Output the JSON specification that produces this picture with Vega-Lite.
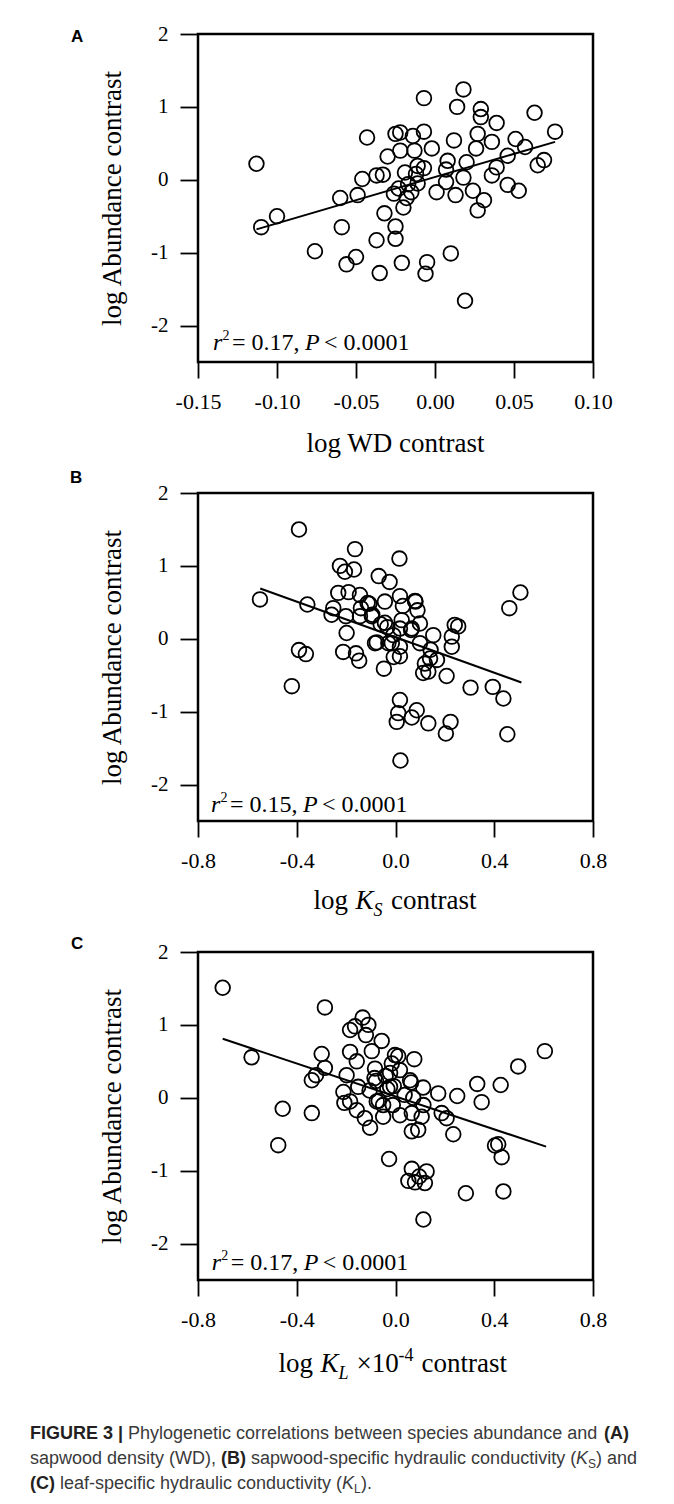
{
  "$schema": "https://vega.github.io/schema/vega-lite/v6.json",
  "padding": {"left": 30, "top": 21, "right": 10, "bottom": 10},
  "bounds": "flush",
  "spacing": 131,
  "datasets": {
    "A": [
      {"x": -0.113, "y": 0.22}, {"x": -0.110, "y": -0.65}, {"x": -0.100, "y": -0.50}, {"x": -0.076, "y": -0.98},
      {"x": -0.059, "y": -0.65}, {"x": -0.060, "y": -0.25}, {"x": -0.049, "y": -0.21}, {"x": -0.046, "y": 0.01},
      {"x": -0.043, "y": 0.58}, {"x": -0.056, "y": -1.16}, {"x": -0.050, "y": -1.06}, {"x": -0.035, "y": -1.28},
      {"x": -0.037, "y": -0.83}, {"x": -0.032, "y": -0.46}, {"x": -0.025, "y": -0.64}, {"x": -0.025, "y": -0.81},
      {"x": -0.021, "y": -1.14}, {"x": -0.037, "y": 0.06}, {"x": -0.033, "y": 0.07}, {"x": -0.030, "y": 0.32},
      {"x": -0.022, "y": 0.40}, {"x": -0.022, "y": 0.65}, {"x": -0.025, "y": 0.63}, {"x": -0.019, "y": 0.10},
      {"x": -0.017, "y": -0.06}, {"x": -0.023, "y": -0.12}, {"x": -0.026, "y": -0.19}, {"x": -0.018, "y": -0.25},
      {"x": -0.020, "y": -0.38}, {"x": -0.012, "y": 0.08}, {"x": -0.013, "y": 0.40}, {"x": -0.014, "y": 0.60},
      {"x": -0.007, "y": 0.66}, {"x": -0.007, "y": 1.12}, {"x": 0.018, "y": 1.24}, {"x": 0.014, "y": 1.00},
      {"x": 0.029, "y": 0.97}, {"x": 0.029, "y": 0.86}, {"x": 0.039, "y": 0.78}, {"x": 0.063, "y": 0.92},
      {"x": 0.076, "y": 0.66}, {"x": 0.069, "y": 0.27}, {"x": 0.065, "y": 0.20}, {"x": 0.057, "y": 0.45},
      {"x": 0.051, "y": 0.56}, {"x": 0.053, "y": -0.15}, {"x": 0.046, "y": -0.07}, {"x": 0.039, "y": 0.17},
      {"x": 0.036, "y": 0.06}, {"x": 0.036, "y": 0.52}, {"x": 0.027, "y": 0.63}, {"x": 0.026, "y": 0.43},
      {"x": 0.046, "y": 0.33}, {"x": 0.031, "y": -0.28}, {"x": 0.027, "y": -0.42}, {"x": 0.024, "y": -0.15},
      {"x": 0.020, "y": 0.24}, {"x": 0.018, "y": 0.03}, {"x": 0.013, "y": -0.21}, {"x": 0.012, "y": 0.54},
      {"x": 0.008, "y": 0.26}, {"x": 0.007, "y": 0.14}, {"x": 0.007, "y": -0.03}, {"x": 0.001, "y": -0.17},
      {"x": -0.002, "y": 0.43}, {"x": -0.007, "y": 0.16}, {"x": -0.005, "y": -1.13}, {"x": -0.006, "y": -1.29},
      {"x": 0.010, "y": -1.01}, {"x": 0.019, "y": -1.66}, {"x": -0.011, "y": 0.19}, {"x": -0.011, "y": -0.05},
      {"x": -0.015, "y": -0.17}
    ],
    "B": [
      {"x": -0.549, "y": 0.54}, {"x": -0.391, "y": 1.50}, {"x": -0.357, "y": 0.47}, {"x": -0.391, "y": -0.155},
      {"x": -0.363, "y": -0.21}, {"x": -0.42, "y": -0.65}, {"x": -0.164, "y": 1.23}, {"x": 0.016, "y": 1.10},
      {"x": -0.225, "y": 1.00}, {"x": -0.205, "y": 0.92}, {"x": -0.168, "y": 0.95}, {"x": -0.068, "y": 0.86},
      {"x": -0.024, "y": 0.78}, {"x": -0.232, "y": 0.63}, {"x": -0.19, "y": 0.64}, {"x": -0.144, "y": 0.60},
      {"x": -0.113, "y": 0.49}, {"x": -0.043, "y": 0.51}, {"x": 0.018, "y": 0.585}, {"x": 0.079, "y": 0.52},
      {"x": -0.252, "y": 0.42}, {"x": -0.259, "y": 0.33}, {"x": -0.201, "y": 0.31}, {"x": -0.096, "y": 0.31},
      {"x": -0.144, "y": 0.31}, {"x": -0.043, "y": 0.22}, {"x": 0.025, "y": 0.256}, {"x": 0.018, "y": 0.14},
      {"x": 0.063, "y": 0.12}, {"x": 0.099, "y": 0.21}, {"x": 0.089, "y": 0.39}, {"x": -0.198, "y": 0.08},
      {"x": -0.083, "y": -0.06}, {"x": -0.029, "y": -0.06}, {"x": -0.212, "y": -0.18}, {"x": -0.16, "y": -0.20},
      {"x": -0.147, "y": -0.30}, {"x": -0.047, "y": -0.41}, {"x": 0.018, "y": -0.24}, {"x": -0.007, "y": -0.25},
      {"x": 0.018, "y": -0.11}, {"x": -0.015, "y": -0.06}, {"x": 0.099, "y": -0.06}, {"x": 0.153, "y": 0.05},
      {"x": 0.228, "y": 0.03}, {"x": 0.254, "y": 0.17}, {"x": 0.24, "y": 0.19}, {"x": 0.228, "y": -0.11},
      {"x": 0.14, "y": -0.27}, {"x": 0.119, "y": -0.34}, {"x": 0.168, "y": -0.29}, {"x": 0.142, "y": -0.15},
      {"x": 0.133, "y": -0.45}, {"x": 0.112, "y": -0.47}, {"x": 0.207, "y": -0.51}, {"x": 0.304, "y": -0.67},
      {"x": 0.394, "y": -0.66}, {"x": 0.437, "y": -0.82}, {"x": 0.453, "y": -1.31}, {"x": 0.461, "y": 0.42},
      {"x": 0.506, "y": 0.635}, {"x": 0.223, "y": -1.14}, {"x": 0.204, "y": -1.30}, {"x": 0.133, "y": -1.16},
      {"x": 0.066, "y": -1.08}, {"x": 0.086, "y": -0.98}, {"x": 0.018, "y": -0.84}, {"x": 0.005, "y": -1.14},
      {"x": 0.011, "y": -1.02}, {"x": 0.02, "y": -1.67}, {"x": -0.009, "y": 0.05}, {"x": -0.033, "y": 0.16},
      {"x": 0.066, "y": 0.14}, {"x": -0.106, "y": 0.48}, {"x": -0.094, "y": 0.33}, {"x": -0.076, "y": -0.05},
      {"x": -0.14, "y": 0.42}, {"x": 0.081, "y": 0.51}, {"x": 0.03, "y": 0.45}, {"x": -0.06, "y": 0.2}
    ],
    "C": [
      {"x": -0.70, "y": 1.51}, {"x": -0.286, "y": 1.24}, {"x": -0.583, "y": 0.555}, {"x": -0.299, "y": 0.60},
      {"x": -0.286, "y": 0.41}, {"x": -0.322, "y": 0.31}, {"x": -0.339, "y": 0.24}, {"x": -0.457, "y": -0.15},
      {"x": -0.339, "y": -0.21}, {"x": -0.475, "y": -0.65}, {"x": -0.026, "y": -0.84}, {"x": -0.133, "y": 1.10},
      {"x": -0.11, "y": 1.0}, {"x": -0.164, "y": 0.98}, {"x": -0.184, "y": 0.93}, {"x": -0.12, "y": 0.86},
      {"x": -0.056, "y": 0.78}, {"x": -0.184, "y": 0.63}, {"x": -0.157, "y": 0.50}, {"x": -0.096, "y": 0.64},
      {"x": -0.083, "y": 0.40}, {"x": -0.002, "y": 0.586}, {"x": 0.011, "y": 0.57}, {"x": -0.198, "y": 0.31},
      {"x": -0.211, "y": 0.08}, {"x": -0.151, "y": 0.15}, {"x": -0.079, "y": 0.23}, {"x": -0.022, "y": 0.15},
      {"x": -0.011, "y": -0.10}, {"x": -0.157, "y": -0.17}, {"x": -0.124, "y": -0.28}, {"x": -0.103, "y": -0.41},
      {"x": -0.05, "y": -0.26}, {"x": -0.076, "y": -0.05}, {"x": -0.184, "y": -0.05}, {"x": -0.207, "y": -0.07},
      {"x": 0.605, "y": 0.64}, {"x": 0.497, "y": 0.43}, {"x": 0.331, "y": 0.19}, {"x": 0.426, "y": 0.175},
      {"x": 0.349, "y": -0.06}, {"x": 0.25, "y": 0.025}, {"x": 0.173, "y": 0.06}, {"x": 0.112, "y": 0.14},
      {"x": 0.076, "y": 0.53}, {"x": 0.059, "y": 0.24}, {"x": 0.106, "y": -0.26}, {"x": 0.066, "y": -0.21},
      {"x": 0.207, "y": -0.28}, {"x": 0.187, "y": -0.21}, {"x": 0.234, "y": -0.50}, {"x": 0.092, "y": -0.44},
      {"x": 0.066, "y": -0.46}, {"x": 0.403, "y": -0.655}, {"x": 0.416, "y": -0.637}, {"x": 0.43, "y": -0.815},
      {"x": 0.066, "y": -0.975}, {"x": 0.126, "y": -1.01}, {"x": 0.096, "y": -1.08}, {"x": 0.052, "y": -1.14},
      {"x": 0.119, "y": -1.17}, {"x": 0.079, "y": -1.16}, {"x": 0.285, "y": -1.31}, {"x": 0.437, "y": -1.285},
      {"x": 0.113, "y": -1.67}, {"x": -0.05, "y": -0.10}, {"x": 0.018, "y": -0.24}, {"x": 0.113, "y": -0.10},
      {"x": -0.022, "y": 0.34}, {"x": 0.018, "y": 0.38}, {"x": 0.072, "y": 0.0}, {"x": -0.085, "y": 0.27},
      {"x": -0.033, "y": 0.12}, {"x": -0.007, "y": 0.16}, {"x": 0.037, "y": 0.04}, {"x": -0.068, "y": -0.04},
      {"x": -0.015, "y": 0.47}, {"x": 0.063, "y": 0.21}, {"x": -0.105, "y": 0.1}, {"x": -0.04, "y": 0.3}
    ],
    "lineA": [{"x": -0.113, "y": -0.68}, {"x": 0.076, "y": 0.52}],
    "lineB": [{"x": -0.548, "y": 0.69}, {"x": 0.51, "y": -0.60}],
    "lineC": [{"x": -0.70, "y": 0.81}, {"x": 0.61, "y": -0.67}]
  },
  "vconcat": [
    {
      "width": 395, "height": 328,
      "layer": [
        {
          "data": {"name": "A"},
          "mark": {"type": "point", "shape": "circle", "filled": false, "size": 215, "stroke": "black", "strokeWidth": 1.8, "opacity": 1},
          "encoding": {
            "x": {"field": "x", "type": "quantitative", "scale": {"domain": [-0.15, 0.10], "nice": false, "zero": false},
              "axis": {"values": [-0.15, -0.1, -0.05, 0, 0.05, 0.1], "format": ".2f", "labelExpr": "replace(datum.label, '\u2212', '-')", "tickSize": 16, "labelPadding": 13, "labelFontSize": 22, "labelFlush": false, "labelOverlap": false, "title": null}},
            "y": {"field": "y", "type": "quantitative", "scale": {"domain": [-2.5, 2], "nice": false, "zero": false},
              "axis": {"values": [-2, -1, 0, 1, 2], "format": "d", "labelExpr": "replace(datum.label, '\u2212', '-')", "tickSize": 18, "labelPadding": 12, "labelFontSize": 21, "labelFlush": false, "labelOverlap": false, "title": "log Abundance contrast", "titleFontSize": 27, "titlePadding": 24}}
          }
        },
        {"data": {"name": "lineA"}, "mark": {"type": "line", "color": "black", "strokeWidth": 2}, "encoding": {"x": {"field": "x", "type": "quantitative"}, "y": {"field": "y", "type": "quantitative"}}},
        {"data": {"values": [{}]}, "mark": {"type": "text", "text": "A", "font": "Liberation Sans", "fontWeight": "bold", "fontSize": 17, "align": "left", "baseline": "middle", "dx": -127, "dy": 3, "color": "black"}, "encoding": {"x": {"datum": -0.15}, "y": {"datum": 2}}},
        {"data": {"values": [{}]}, "mark": {"type": "text", "text": "log WD contrast", "font": "Liberation Serif", "fontSize": 27, "align": "center", "baseline": "alphabetic", "dy": 89.6, "color": "black"}, "encoding": {"x": {"datum": -0.025}, "y": {"datum": -2.5}}},
        {"data": {"values": [{}]}, "mark": {"type": "text", "text": "r", "font": "Liberation Serif", "fontStyle": "italic", "fontSize": 24, "align": "left", "baseline": "alphabetic", "dx": 0, "color": "black"}, "encoding": {"x": {"datum": -0.1405}, "y": {"datum": -2.34}}},
        {"data": {"values": [{}]}, "mark": {"type": "text", "text": "2", "font": "Liberation Serif", "fontSize": 14, "align": "left", "baseline": "alphabetic", "dx": 9.5, "dy": -10, "color": "black"}, "encoding": {"x": {"datum": -0.1405}, "y": {"datum": -2.34}}},
        {"data": {"values": [{}]}, "mark": {"type": "text", "text": "= 0.17,", "font": "Liberation Serif", "fontSize": 24, "align": "left", "baseline": "alphabetic", "dx": 19, "color": "black"}, "encoding": {"x": {"datum": -0.1405}, "y": {"datum": -2.34}}},
        {"data": {"values": [{}]}, "mark": {"type": "text", "text": "P", "font": "Liberation Serif", "fontStyle": "italic", "fontSize": 24, "align": "left", "baseline": "alphabetic", "dx": 92, "color": "black"}, "encoding": {"x": {"datum": -0.1405}, "y": {"datum": -2.34}}},
        {"data": {"values": [{}]}, "mark": {"type": "text", "text": "< 0.0001", "font": "Liberation Serif", "fontSize": 24, "align": "left", "baseline": "alphabetic", "dx": 111, "color": "black"}, "encoding": {"x": {"datum": -0.1405}, "y": {"datum": -2.34}}}
      ]
    },
    {
      "width": 395, "height": 328,
      "layer": [
        {
          "data": {"name": "B"},
          "mark": {"type": "point", "shape": "circle", "filled": false, "size": 215, "stroke": "black", "strokeWidth": 1.8, "opacity": 1},
          "encoding": {
            "x": {"field": "x", "type": "quantitative", "scale": {"domain": [-0.8, 0.8], "nice": false, "zero": false},
              "axis": {"values": [-0.8, -0.4, 0, 0.4, 0.8], "format": ".1f", "labelExpr": "replace(datum.label, '\u2212', '-')", "tickSize": 16, "labelPadding": 13, "labelFontSize": 22, "labelFlush": false, "labelOverlap": false, "title": null}},
            "y": {"field": "y", "type": "quantitative", "scale": {"domain": [-2.5, 2], "nice": false, "zero": false},
              "axis": {"values": [-2, -1, 0, 1, 2], "format": "d", "labelExpr": "replace(datum.label, '\u2212', '-')", "tickSize": 18, "labelPadding": 12, "labelFontSize": 21, "labelFlush": false, "labelOverlap": false, "title": "log Abundance contrast", "titleFontSize": 27, "titlePadding": 24}}
          }
        },
        {"data": {"name": "lineB"}, "mark": {"type": "line", "color": "black", "strokeWidth": 2}, "encoding": {"x": {"field": "x", "type": "quantitative"}, "y": {"field": "y", "type": "quantitative"}}},
        {"data": {"values": [{}]}, "mark": {"type": "text", "text": "B", "font": "Liberation Sans", "fontWeight": "bold", "fontSize": 17, "align": "left", "baseline": "middle", "dx": -128, "dy": -15, "color": "black"}, "encoding": {"x": {"datum": -0.8}, "y": {"datum": 2}}},
        {"data": {"values": [{}]}, "mark": {"type": "text", "text": "log", "font": "Liberation Serif", "fontSize": 27, "align": "left", "baseline": "alphabetic", "dx": -82, "dy": 87.6, "color": "black"}, "encoding": {"x": {"datum": 0}, "y": {"datum": -2.5}}},
        {"data": {"values": [{}]}, "mark": {"type": "text", "text": "K", "font": "Liberation Serif", "fontStyle": "italic", "fontSize": 27, "align": "left", "baseline": "alphabetic", "dx": -40, "dy": 87.6, "color": "black"}, "encoding": {"x": {"datum": 0}, "y": {"datum": -2.5}}},
        {"data": {"values": [{}]}, "mark": {"type": "text", "text": "S", "font": "Liberation Serif", "fontStyle": "italic", "fontSize": 18, "align": "left", "baseline": "alphabetic", "dx": -22, "dy": 94.6, "color": "black"}, "encoding": {"x": {"datum": 0}, "y": {"datum": -2.5}}},
        {"data": {"values": [{}]}, "mark": {"type": "text", "text": "contrast", "font": "Liberation Serif", "fontSize": 27, "align": "left", "baseline": "alphabetic", "dx": -4.5, "dy": 87.6, "color": "black"}, "encoding": {"x": {"datum": 0}, "y": {"datum": -2.5}}},
        {"data": {"values": [{}]}, "mark": {"type": "text", "text": "r", "font": "Liberation Serif", "fontStyle": "italic", "fontSize": 24, "align": "left", "baseline": "alphabetic", "dx": 0, "color": "black"}, "encoding": {"x": {"datum": -0.747}, "y": {"datum": -2.37}}},
        {"data": {"values": [{}]}, "mark": {"type": "text", "text": "2", "font": "Liberation Serif", "fontSize": 14, "align": "left", "baseline": "alphabetic", "dx": 9.5, "dy": -10, "color": "black"}, "encoding": {"x": {"datum": -0.747}, "y": {"datum": -2.37}}},
        {"data": {"values": [{}]}, "mark": {"type": "text", "text": "= 0.15,", "font": "Liberation Serif", "fontSize": 24, "align": "left", "baseline": "alphabetic", "dx": 19, "color": "black"}, "encoding": {"x": {"datum": -0.747}, "y": {"datum": -2.37}}},
        {"data": {"values": [{}]}, "mark": {"type": "text", "text": "P", "font": "Liberation Serif", "fontStyle": "italic", "fontSize": 24, "align": "left", "baseline": "alphabetic", "dx": 92, "color": "black"}, "encoding": {"x": {"datum": -0.747}, "y": {"datum": -2.37}}},
        {"data": {"values": [{}]}, "mark": {"type": "text", "text": "< 0.0001", "font": "Liberation Serif", "fontSize": 24, "align": "left", "baseline": "alphabetic", "dx": 111, "color": "black"}, "encoding": {"x": {"datum": -0.747}, "y": {"datum": -2.37}}}
      ]
    },
    {
      "width": 395, "height": 328,
      "layer": [
        {
          "data": {"name": "C"},
          "mark": {"type": "point", "shape": "circle", "filled": false, "size": 215, "stroke": "black", "strokeWidth": 1.8, "opacity": 1},
          "encoding": {
            "x": {"field": "x", "type": "quantitative", "scale": {"domain": [-0.8, 0.8], "nice": false, "zero": false},
              "axis": {"values": [-0.8, -0.4, 0, 0.4, 0.8], "format": ".1f", "labelExpr": "replace(datum.label, '\u2212', '-')", "tickSize": 16, "labelPadding": 13, "labelFontSize": 22, "labelFlush": false, "labelOverlap": false, "title": null}},
            "y": {"field": "y", "type": "quantitative", "scale": {"domain": [-2.5, 2], "nice": false, "zero": false},
              "axis": {"values": [-2, -1, 0, 1, 2], "format": "d", "labelExpr": "replace(datum.label, '\u2212', '-')", "tickSize": 18, "labelPadding": 12, "labelFontSize": 21, "labelFlush": false, "labelOverlap": false, "title": "log Abundance contrast", "titleFontSize": 27, "titlePadding": 24}}
          }
        },
        {"data": {"name": "lineC"}, "mark": {"type": "line", "color": "black", "strokeWidth": 2}, "encoding": {"x": {"field": "x", "type": "quantitative"}, "y": {"field": "y", "type": "quantitative"}}},
        {"data": {"values": [{}]}, "mark": {"type": "text", "text": "C", "font": "Liberation Sans", "fontWeight": "bold", "fontSize": 17, "align": "left", "baseline": "middle", "dx": -127, "dy": -8.5, "color": "black"}, "encoding": {"x": {"datum": -0.8}, "y": {"datum": 2}}},
        {"data": {"values": [{}]}, "mark": {"type": "text", "text": "log", "font": "Liberation Serif", "fontSize": 27, "align": "left", "baseline": "alphabetic", "dx": -117, "dy": 92, "color": "black"}, "encoding": {"x": {"datum": 0}, "y": {"datum": -2.5}}},
        {"data": {"values": [{}]}, "mark": {"type": "text", "text": "K", "font": "Liberation Serif", "fontStyle": "italic", "fontSize": 27, "align": "left", "baseline": "alphabetic", "dx": -75, "dy": 92, "color": "black"}, "encoding": {"x": {"datum": 0}, "y": {"datum": -2.5}}},
        {"data": {"values": [{}]}, "mark": {"type": "text", "text": "L", "font": "Liberation Serif", "fontStyle": "italic", "fontSize": 18, "align": "left", "baseline": "alphabetic", "dx": -57, "dy": 99, "color": "black"}, "encoding": {"x": {"datum": 0}, "y": {"datum": -2.5}}},
        {"data": {"values": [{}]}, "mark": {"type": "text", "text": "×10", "font": "Liberation Serif", "fontSize": 27, "align": "left", "baseline": "alphabetic", "dx": -39, "dy": 92, "color": "black"}, "encoding": {"x": {"datum": 0}, "y": {"datum": -2.5}}},
        {"data": {"values": [{}]}, "mark": {"type": "text", "text": "-4", "font": "Liberation Serif", "fontSize": 18, "align": "left", "baseline": "alphabetic", "dx": 3, "dy": 81, "color": "black"}, "encoding": {"x": {"datum": 0}, "y": {"datum": -2.5}}},
        {"data": {"values": [{}]}, "mark": {"type": "text", "text": "contrast", "font": "Liberation Serif", "fontSize": 27, "align": "left", "baseline": "alphabetic", "dx": 26, "dy": 92, "color": "black"}, "encoding": {"x": {"datum": 0}, "y": {"datum": -2.5}}},
        {"data": {"values": [{}]}, "mark": {"type": "text", "text": "r", "font": "Liberation Serif", "fontStyle": "italic", "fontSize": 24, "align": "left", "baseline": "alphabetic", "dx": 0, "color": "black"}, "encoding": {"x": {"datum": -0.744}, "y": {"datum": -2.36}}},
        {"data": {"values": [{}]}, "mark": {"type": "text", "text": "2", "font": "Liberation Serif", "fontSize": 14, "align": "left", "baseline": "alphabetic", "dx": 9.5, "dy": -10, "color": "black"}, "encoding": {"x": {"datum": -0.744}, "y": {"datum": -2.36}}},
        {"data": {"values": [{}]}, "mark": {"type": "text", "text": "= 0.17,", "font": "Liberation Serif", "fontSize": 24, "align": "left", "baseline": "alphabetic", "dx": 19, "color": "black"}, "encoding": {"x": {"datum": -0.744}, "y": {"datum": -2.36}}},
        {"data": {"values": [{}]}, "mark": {"type": "text", "text": "P", "font": "Liberation Serif", "fontStyle": "italic", "fontSize": 24, "align": "left", "baseline": "alphabetic", "dx": 92, "color": "black"}, "encoding": {"x": {"datum": -0.744}, "y": {"datum": -2.36}}},
        {"data": {"values": [{}]}, "mark": {"type": "text", "text": "< 0.0001", "font": "Liberation Serif", "fontSize": 24, "align": "left", "baseline": "alphabetic", "dx": 111, "color": "black"}, "encoding": {"x": {"datum": -0.744}, "y": {"datum": -2.36}}}
      ]
    },
    {
      "width": 395, "height": 100,
      "view": {"stroke": null},
      "data": {"values": [{}]},
      "layer": [
        {"mark": {"type": "text", "text": "FIGURE 3 |", "font": "Liberation Sans", "fontWeight": "bold", "fontSize": 18, "align": "left", "baseline": "alphabetic", "dx": -168, "color": "#231f20"}, "encoding": {"x": {"datum": 0, "scale": {"domain": [0, 1]}, "axis": null}, "y": {"datum": 1, "scale": {"domain": [-0.108, 3.892], "reverse": true}, "axis": null}}},
        {"mark": {"type": "text", "text": "Phylogenetic correlations between species abundance and", "font": "Liberation Sans", "fontSize": 18, "align": "left", "baseline": "alphabetic", "dx": -70, "color": "#3a3a3a"}, "encoding": {"x": {"datum": 0, "scale": {"domain": [0, 1]}, "axis": null}, "y": {"datum": 1, "scale": {"domain": [-0.108, 3.892], "reverse": true}, "axis": null}}},
        {"mark": {"type": "text", "text": "(A)", "font": "Liberation Sans", "fontWeight": "bold", "fontSize": 18, "align": "left", "baseline": "alphabetic", "dx": 406, "color": "#231f20"}, "encoding": {"x": {"datum": 0, "scale": {"domain": [0, 1]}, "axis": null}, "y": {"datum": 1, "scale": {"domain": [-0.108, 3.892], "reverse": true}, "axis": null}}},
        {"mark": {"type": "text", "text": "sapwood density (WD),", "font": "Liberation Sans", "fontSize": 18, "align": "left", "baseline": "alphabetic", "dx": -168, "color": "#3a3a3a"}, "encoding": {"x": {"datum": 0, "scale": {"domain": [0, 1]}, "axis": null}, "y": {"datum": 2, "scale": {"domain": [-0.108, 3.892], "reverse": true}, "axis": null}}},
        {"mark": {"type": "text", "text": "(B)", "font": "Liberation Sans", "fontWeight": "bold", "fontSize": 18, "align": "left", "baseline": "alphabetic", "dx": 23, "color": "#231f20"}, "encoding": {"x": {"datum": 0, "scale": {"domain": [0, 1]}, "axis": null}, "y": {"datum": 2, "scale": {"domain": [-0.108, 3.892], "reverse": true}, "axis": null}}},
        {"mark": {"type": "text", "text": "sapwood-specific hydraulic conductivity (", "font": "Liberation Sans", "fontSize": 18, "align": "left", "baseline": "alphabetic", "dx": 53, "color": "#3a3a3a"}, "encoding": {"x": {"datum": 0, "scale": {"domain": [0, 1]}, "axis": null}, "y": {"datum": 2, "scale": {"domain": [-0.108, 3.892], "reverse": true}, "axis": null}}},
        {"mark": {"type": "text", "text": "K", "font": "Liberation Sans", "fontStyle": "italic", "fontSize": 18, "align": "left", "baseline": "alphabetic", "dx": 378, "color": "#3a3a3a"}, "encoding": {"x": {"datum": 0, "scale": {"domain": [0, 1]}, "axis": null}, "y": {"datum": 2, "scale": {"domain": [-0.108, 3.892], "reverse": true}, "axis": null}}},
        {"mark": {"type": "text", "text": "S", "font": "Liberation Sans", "fontSize": 12, "align": "left", "baseline": "alphabetic", "dx": 390, "dy": 4, "color": "#3a3a3a"}, "encoding": {"x": {"datum": 0, "scale": {"domain": [0, 1]}, "axis": null}, "y": {"datum": 2, "scale": {"domain": [-0.108, 3.892], "reverse": true}, "axis": null}}},
        {"mark": {"type": "text", "text": ") and", "font": "Liberation Sans", "fontSize": 18, "align": "left", "baseline": "alphabetic", "dx": 398, "color": "#3a3a3a"}, "encoding": {"x": {"datum": 0, "scale": {"domain": [0, 1]}, "axis": null}, "y": {"datum": 2, "scale": {"domain": [-0.108, 3.892], "reverse": true}, "axis": null}}},
        {"mark": {"type": "text", "text": "(C)", "font": "Liberation Sans", "fontWeight": "bold", "fontSize": 18, "align": "left", "baseline": "alphabetic", "dx": -168, "color": "#231f20"}, "encoding": {"x": {"datum": 0, "scale": {"domain": [0, 1]}, "axis": null}, "y": {"datum": 3, "scale": {"domain": [-0.108, 3.892], "reverse": true}, "axis": null}}},
        {"mark": {"type": "text", "text": "leaf-specific hydraulic conductivity (", "font": "Liberation Sans", "fontSize": 18, "align": "left", "baseline": "alphabetic", "dx": -138, "color": "#3a3a3a"}, "encoding": {"x": {"datum": 0, "scale": {"domain": [0, 1]}, "axis": null}, "y": {"datum": 3, "scale": {"domain": [-0.108, 3.892], "reverse": true}, "axis": null}}},
        {"mark": {"type": "text", "text": "K", "font": "Liberation Sans", "fontStyle": "italic", "fontSize": 18, "align": "left", "baseline": "alphabetic", "dx": 144, "color": "#3a3a3a"}, "encoding": {"x": {"datum": 0, "scale": {"domain": [0, 1]}, "axis": null}, "y": {"datum": 3, "scale": {"domain": [-0.108, 3.892], "reverse": true}, "axis": null}}},
        {"mark": {"type": "text", "text": "L", "font": "Liberation Sans", "fontSize": 12, "align": "left", "baseline": "alphabetic", "dx": 156, "dy": 4, "color": "#3a3a3a"}, "encoding": {"x": {"datum": 0, "scale": {"domain": [0, 1]}, "axis": null}, "y": {"datum": 3, "scale": {"domain": [-0.108, 3.892], "reverse": true}, "axis": null}}},
        {"mark": {"type": "text", "text": ").", "font": "Liberation Sans", "fontSize": 18, "align": "left", "baseline": "alphabetic", "dx": 163, "color": "#3a3a3a"}, "encoding": {"x": {"datum": 0, "scale": {"domain": [0, 1]}, "axis": null}, "y": {"datum": 3, "scale": {"domain": [-0.108, 3.892], "reverse": true}, "axis": null}}}
      ]
    }
  ],
  "config": {
    "view": {"stroke": "black", "strokeWidth": 2.5},
    "axis": {"domain": false, "grid": false, "ticks": true, "tickColor": "black", "tickWidth": 1.8, "labelFont": "Liberation Serif", "labelColor": "black", "titleFont": "Liberation Serif", "titleColor": "black", "titleFontWeight": "normal"}
  }
}
